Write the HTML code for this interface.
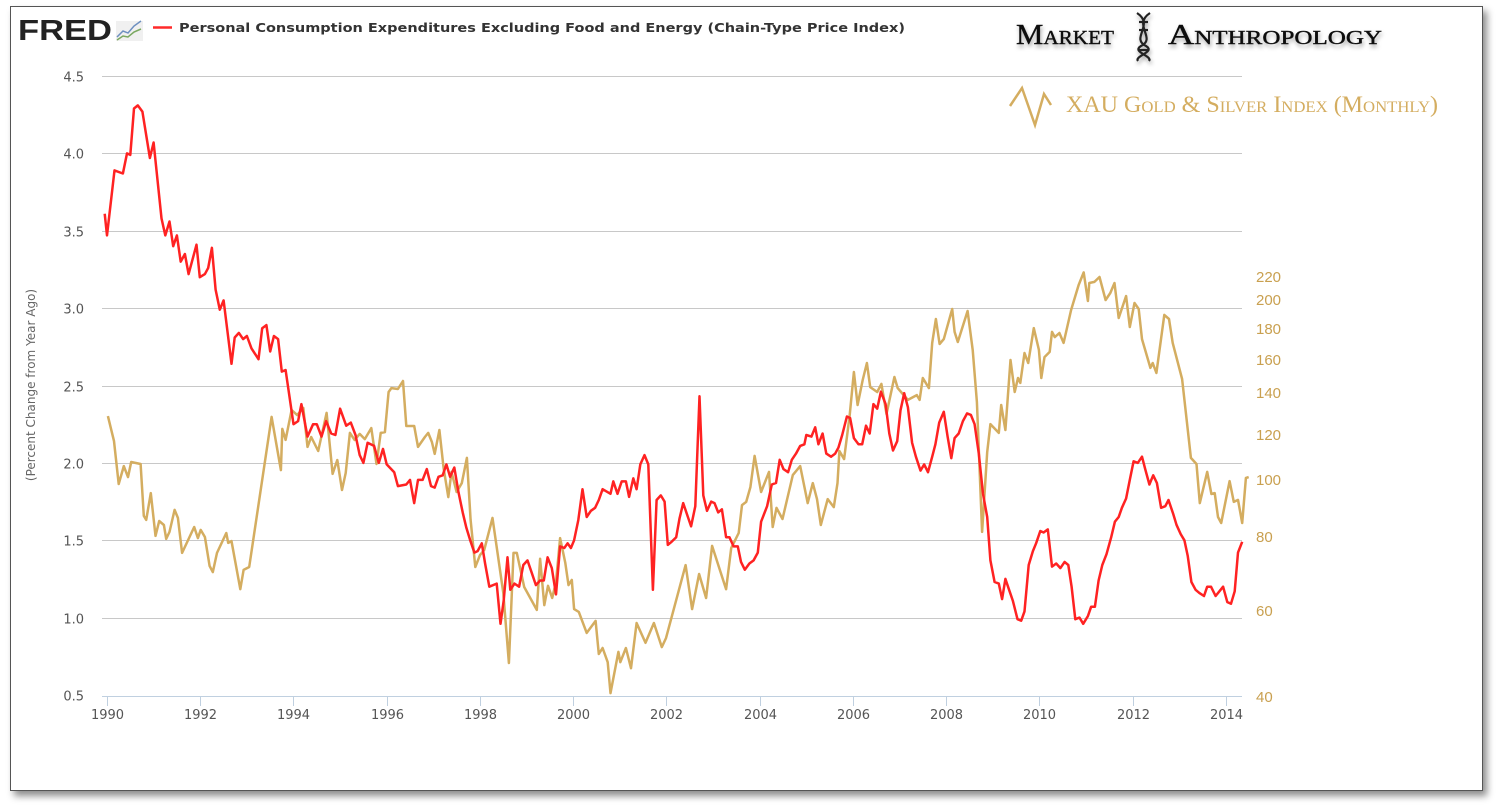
<!DOCTYPE html>
<html>
<head>
<meta charset="utf-8">
<style>
  html,body{margin:0;padding:0;background:#fff;}
  body{width:1501px;height:810px;position:relative;overflow:hidden;font-family:"Liberation Sans",sans-serif;}
  #frame{position:absolute;left:10px;top:6px;width:1471px;height:783px;border:1px solid #555;box-shadow:4px 5px 7px rgba(0,0,0,0.45);background:#fff;}
  svg{position:absolute;left:0;top:0;}
</style>
</head>
<body>
<div id="frame"></div>
<svg id="chart" width="1501" height="810">
  <defs>
    <filter id="sh" x="-5%" y="-30%" width="110%" height="170%"><feDropShadow dx="1" dy="3" stdDeviation="2" flood-color="#000" flood-opacity="0.35"/></filter>
  </defs>
  <g>
    <text x="18" y="40" font-family="Liberation Sans, sans-serif" font-weight="bold" font-size="29" fill="#222" textLength="94" lengthAdjust="spacingAndGlyphs">FRED</text>
    <rect x="116" y="21" width="27" height="20" fill="#f0f0f0"/>
    <polyline points="117,37 123,31 128,33 134,26 141,21" fill="none" stroke="#6d8fc0" stroke-width="1.5"/>
    <polyline points="117,40 123,36 128,37 134,32 141,29" fill="none" stroke="#7aa860" stroke-width="1.5"/>
  </g>
  <line x1="153" y1="27.5" x2="172" y2="27.5" stroke="#ff2a2a" stroke-width="2.5"/>
  <text x="179" y="32" font-family="DejaVu Sans, sans-serif" font-size="12.5" font-weight="bold" fill="#333" textLength="726" lengthAdjust="spacingAndGlyphs">Personal Consumption Expenditures Excluding Food and Energy (Chain-Type Price Index)</text>
  <g filter="url(#sh)">
    <text x="1016" y="44" font-family="Liberation Serif, serif" font-size="29" fill="#111" stroke="#111" stroke-width="0.4" style="font-variant:small-caps" textLength="98" lengthAdjust="spacingAndGlyphs">Market</text>
    <g stroke="#222" stroke-width="2.2" fill="none">
      <path d="M1137,13 C1155,25 1130,38 1146,46 C1156,52 1134,56 1138,61"/>
      <path d="M1150,13 C1132,25 1157,38 1141,46 C1131,52 1153,56 1149,61"/>
      <line x1="1139" y1="22" x2="1148" y2="22"/><line x1="1139" y1="30" x2="1148" y2="30"/><line x1="1139" y1="50" x2="1148" y2="50"/>
    </g>
    <text x="1168" y="44" font-family="Liberation Serif, serif" font-size="29" fill="#111" stroke="#111" stroke-width="0.4" style="font-variant:small-caps" textLength="214" lengthAdjust="spacingAndGlyphs">Anthropology</text>
  </g>
  <g>
    <polyline points="1010,106 1022,88 1035,125 1044,94 1051,105" fill="none" stroke="#d4ad60" stroke-width="2.5"/>
    <text x="1066" y="112" font-family="Liberation Serif, serif" font-size="23" fill="#d4ad60" style="font-variant:small-caps" textLength="372" lengthAdjust="spacingAndGlyphs">XAU Gold &amp; Silver Index (Monthly)</text>
  </g>
  <text transform="translate(35,385) rotate(-90)" text-anchor="middle" font-family="DejaVu Sans, sans-serif" font-size="12" fill="#666">(Percent Change from Year Ago)</text>
  <g id="grid"></g>
  <g id="axes"></g>
  <g id="series"></g>
</svg>
<script>
const leftTicks = [0.5,1.0,1.5,2.0,2.5,3.0,3.5,4.0,4.5];
const rightTicks = [40,60,80,100,120,140,160,180,200,220];
const rightTickPx = [697,611,537,480,435,393,360,329,300,277];
const xTickYears = [1990,1992,1994,1996,1998,2000,2002,2004,2006,2008,2010,2012,2014];

const redYears = [1989.95,1990.0,1990.16,1990.34,1990.43,1990.5,1990.58,1990.66,1990.76,1990.92,1991.0,1991.17,1991.25,1991.34,1991.42,1991.5,1991.58,1991.67,1991.75,1991.92,1991.99,1992.1,1992.17,1992.25,1992.33,1992.42,1992.5,1992.67,1992.74,1992.83,1992.92,1993.0,1993.1,1993.25,1993.33,1993.42,1993.5,1993.58,1993.67,1993.75,1993.83,1994.0,1994.1,1994.17,1994.3,1994.42,1994.5,1994.6,1994.7,1994.81,1994.9,1995.0,1995.13,1995.23,1995.33,1995.42,1995.5,1995.59,1995.73,1995.83,1995.92,1996.0,1996.16,1996.24,1996.42,1996.5,1996.59,1996.67,1996.77,1996.86,1996.95,1997.03,1997.11,1997.2,1997.28,1997.36,1997.45,1997.54,1997.63,1997.71,1997.79,1997.88,1997.95,1998.04,1998.11,1998.2,1998.36,1998.44,1998.51,1998.59,1998.65,1998.74,1998.84,1998.93,1999.02,1999.11,1999.2,1999.29,1999.37,1999.45,1999.54,1999.63,1999.72,1999.81,1999.88,1999.95,2000.02,2000.11,2000.2,2000.29,2000.38,2000.47,2000.55,2000.63,2000.8,2000.86,2000.95,2001.04,2001.13,2001.2,2001.29,2001.36,2001.44,2001.53,2001.61,2001.71,2001.79,2001.88,2001.96,2002.03,2002.11,2002.21,2002.28,2002.36,2002.46,2002.53,2002.62,2002.71,2002.79,2002.87,2002.96,2003.03,2003.11,2003.19,2003.28,2003.35,2003.44,2003.53,2003.6,2003.68,2003.78,2003.87,2003.96,2004.03,2004.16,2004.26,2004.35,2004.43,2004.51,2004.61,2004.69,2004.78,2004.87,2004.96,2005.0,2005.11,2005.19,2005.26,2005.35,2005.43,2005.53,2005.62,2005.69,2005.77,2005.87,2005.94,2006.02,2006.12,2006.2,2006.28,2006.36,2006.44,2006.52,2006.6,2006.7,2006.78,2006.86,2006.95,2007.02,2007.1,2007.18,2007.27,2007.35,2007.45,2007.53,2007.61,2007.7,2007.77,2007.85,2007.95,2008.03,2008.11,2008.18,2008.27,2008.36,2008.45,2008.53,2008.61,2008.7,2008.79,2008.88,2008.95,2009.04,2009.13,2009.2,2009.27,2009.36,2009.43,2009.53,2009.61,2009.68,2009.77,2009.86,2009.93,2010.02,2010.09,2010.18,2010.27,2010.36,2010.45,2010.54,2010.62,2010.69,2010.77,2010.86,2010.94,2011.04,2011.11,2011.19,2011.27,2011.35,2011.44,2011.54,2011.62,2011.7,2011.77,2011.86,2011.94,2012.02,2012.11,2012.2,2012.27,2012.36,2012.44,2012.52,2012.61,2012.7,2012.77,2012.87,2012.94,2013.03,2013.11,2013.18,2013.26,2013.35,2013.43,2013.53,2013.6,2013.68,2013.78,2013.86,2013.94,2014.03,2014.11,2014.19,2014.26,2014.35];
const redVals = [3.61,3.47,3.89,3.87,4.0,3.99,4.29,4.31,4.27,3.97,4.07,3.58,3.47,3.56,3.40,3.47,3.30,3.35,3.22,3.41,3.20,3.22,3.26,3.39,3.12,2.99,3.05,2.64,2.81,2.84,2.80,2.82,2.74,2.67,2.87,2.89,2.72,2.82,2.80,2.59,2.60,2.25,2.27,2.38,2.17,2.25,2.25,2.17,2.27,2.19,2.18,2.35,2.24,2.26,2.18,2.05,2.0,2.13,2.11,2.0,2.09,1.99,1.94,1.85,1.86,1.89,1.74,1.89,1.89,1.96,1.85,1.84,1.91,1.92,1.99,1.91,1.97,1.81,1.68,1.58,1.50,1.42,1.43,1.48,1.35,1.20,1.22,0.96,1.11,1.39,1.18,1.22,1.20,1.34,1.37,1.29,1.21,1.24,1.24,1.39,1.32,1.15,1.46,1.45,1.48,1.45,1.50,1.63,1.83,1.65,1.69,1.71,1.76,1.83,1.80,1.88,1.80,1.88,1.88,1.78,1.90,1.83,1.99,2.05,1.99,1.18,1.76,1.79,1.75,1.47,1.49,1.52,1.64,1.74,1.65,1.59,1.72,2.43,1.79,1.69,1.75,1.74,1.68,1.70,1.52,1.52,1.46,1.46,1.36,1.31,1.35,1.37,1.42,1.62,1.72,1.86,1.87,2.02,1.96,1.94,2.02,2.06,2.11,2.12,2.18,2.17,2.23,2.12,2.19,2.06,2.04,2.06,2.10,2.18,2.30,2.29,2.16,2.12,2.12,2.24,2.19,2.38,2.35,2.46,2.38,2.19,2.08,2.14,2.34,2.45,2.36,2.13,2.04,1.95,1.99,1.94,2.04,2.12,2.26,2.33,2.17,2.03,2.16,2.19,2.27,2.32,2.31,2.25,2.06,1.80,1.65,1.37,1.23,1.22,1.12,1.25,1.17,1.11,0.99,0.98,1.04,1.34,1.43,1.48,1.56,1.55,1.57,1.33,1.35,1.32,1.36,1.34,1.20,0.99,1.00,0.96,1.01,1.07,1.07,1.24,1.34,1.41,1.52,1.62,1.65,1.71,1.77,1.89,2.01,2.00,2.04,1.96,1.86,1.92,1.87,1.71,1.72,1.76,1.67,1.60,1.54,1.50,1.40,1.23,1.18,1.16,1.14,1.20,1.20,1.14,1.17,1.20,1.10,1.09,1.17,1.42,1.49];

const goldYears = [1990.02,1990.15,1990.25,1990.36,1990.45,1990.52,1990.72,1990.79,1990.84,1990.94,1991.04,1991.12,1991.22,1991.27,1991.34,1991.45,1991.52,1991.61,1991.87,1991.95,1992.01,1992.1,1992.2,1992.27,1992.36,1992.56,1992.6,1992.67,1992.86,1992.93,1993.05,1993.53,1993.73,1993.76,1993.83,1993.96,1994.08,1994.21,1994.3,1994.38,1994.53,1994.71,1994.84,1994.94,1995.04,1995.12,1995.21,1995.31,1995.42,1995.53,1995.67,1995.78,1995.87,1995.96,1996.04,1996.1,1996.24,1996.35,1996.42,1996.59,1996.67,1996.82,1996.89,1996.97,1997.03,1997.13,1997.22,1997.32,1997.39,1997.5,1997.61,1997.72,1997.8,1997.9,1998.0,1998.09,1998.27,1998.5,1998.62,1998.72,1998.79,1998.95,1999.22,1999.29,1999.38,1999.46,1999.55,1999.63,1999.72,1999.83,1999.9,1999.97,2000.02,2000.12,2000.29,2000.48,2000.55,2000.63,2000.74,2000.8,2000.97,2001.01,2001.13,2001.24,2001.36,2001.55,2001.73,2001.9,2001.99,2002.41,2002.55,2002.7,2002.85,2002.98,2003.28,2003.39,2003.55,2003.62,2003.71,2003.8,2003.89,2004.03,2004.2,2004.28,2004.36,2004.49,2004.71,2004.87,2005.03,2005.14,2005.23,2005.31,2005.46,2005.59,2005.67,2005.71,2005.81,2005.93,2006.02,2006.1,2006.21,2006.3,2006.37,2006.52,2006.61,2006.72,2006.89,2006.96,2007.05,2007.18,2007.37,2007.43,2007.5,2007.63,2007.7,2007.78,2007.86,2007.95,2008.13,2008.18,2008.25,2008.46,2008.57,2008.66,2008.77,2008.88,2008.95,2009.13,2009.18,2009.27,2009.38,2009.47,2009.54,2009.59,2009.68,2009.76,2009.88,2009.99,2010.04,2010.11,2010.22,2010.27,2010.33,2010.43,2010.52,2010.68,2010.84,2010.95,2011.04,2011.07,2011.18,2011.29,2011.42,2011.52,2011.61,2011.7,2011.86,2011.94,2012.04,2012.13,2012.2,2012.38,2012.43,2012.51,2012.68,2012.78,2012.86,2013.06,2013.25,2013.37,2013.44,2013.6,2013.69,2013.76,2013.83,2013.9,2014.08,2014.17,2014.26,2014.35,2014.43,2014.49];
const goldVals = [129,117.3,98.6,106.2,101.3,108,107.1,87.4,86,95.4,80.4,85.6,84.2,79.5,81.8,89.5,86.7,75.7,83.5,79.7,82.5,80,72.2,70.5,75.7,81.4,78.4,78.9,65.9,71.1,71.9,128.6,104.4,122.9,117.8,131.9,129.5,132.9,114.7,119.1,112.9,130.5,102.7,108.9,96.5,103.1,121,117.8,120.5,118.2,123.3,107.1,121,121.4,140.6,143,142.4,147.3,124.3,124.3,114.7,119.1,121,116.9,111.6,122.4,105.3,94,103.6,95.8,98.9,109.8,86,71.9,75.1,76.5,86.7,64.9,47.9,75.7,75.7,66.5,60.3,74.1,61.6,66.8,63.5,67.8,79.7,73,67,68.4,60.5,59.8,54.9,57.7,50,51.4,48.1,40.9,50.5,48.1,51.4,46.7,57.2,52.6,57.2,51.6,53.7,72.4,60.5,70,63.5,77.6,65.9,77,81.4,91.2,92.3,97.5,110.7,95.8,103.6,83.5,90.2,86.3,102.2,106.2,91.9,98.9,93.3,84.2,93.3,90.5,98.9,112.9,109.3,129.5,152.7,134.3,147.9,158.2,143.6,140.6,145.5,130,149.7,143,140,136.7,139,136.7,149.1,143,171,186.9,170.3,173.5,193.8,178.1,171.6,192.4,166.5,135.7,81.8,112.4,125.2,121,134.3,122.4,160,140.6,149.1,146.1,164.5,158.2,180.6,166.5,149.1,161.9,165.2,178.1,174.8,177.4,171,193.1,213,224,199.3,214.8,215.7,220,200,206.1,214.8,187.6,203.5,181.4,197.9,193.8,173.5,155.2,158.2,152.1,189.7,186.9,171,148.5,109.8,107.1,91.9,103.6,95.1,95.4,87,84.9,99.6,92.3,93,84.9,100.9,101.3];

const NS = 'http://www.w3.org/2000/svg';
const X0 = 107, XPY = 46.62;
function xs(yr){ return X0 + (yr - 1990) * XPY; }
function yL(v){ return 695 - (v - 0.5) * 154.75; }
function yR(v){
  for (let i = 0; i < rightTicks.length - 1; i++) {
    const a = rightTicks[i], b = rightTicks[i+1];
    if (v <= b || i === rightTicks.length - 2) {
      return rightTickPx[i] + (v - a) / (b - a) * (rightTickPx[i+1] - rightTickPx[i]);
    }
  }
}
function mk(tag, attrs, parent){
  const e = document.createElementNS(NS, tag);
  for (const k in attrs) e.setAttribute(k, attrs[k]);
  parent.appendChild(e);
  return e;
}
const grid = document.getElementById('grid');
const axes = document.getElementById('axes');
const series = document.getElementById('series');

leftTicks.forEach(t => {
  const y = Math.round(yL(t)) + 0.5;
  if (t > 0.5) {
    const gl = mk('line', {x1:102, x2:1242, y1:y, y2:y, stroke:'#c8c8c8', 'stroke-width':1}, grid);
    
    
  }
  const tx = mk('text', {x:84, y:y+5, 'text-anchor':'end', 'font-family':'DejaVu Sans, sans-serif', 'font-size':13, fill:'#555'}, axes);
  tx.textContent = t.toFixed(1);
  
  
});
const xl = mk('line', {x1:102, x2:1242, y1:696.5, y2:696.5, stroke:'#c0d0e0', 'stroke-width':1}, axes);


xTickYears.forEach(yr => {
  const x = Math.round(xs(yr)) + 0.5;
  const tk = mk('line', {x1:x, x2:x, y1:697, y2:706, stroke:'#c0d0e0', 'stroke-width':1}, axes);
  
  
  const tx = mk('text', {x:x, y:719, 'text-anchor':'middle', 'font-family':'DejaVu Sans, sans-serif', 'font-size':13, fill:'#555'}, axes);
  tx.textContent = yr;
  
  
});
rightTicks.forEach(t => {
  const tx = mk('text', {x:1256, y:yR(t)+5, 'font-size':15, fill:'#c9a050'}, axes);
  tx.textContent = t;
  
  
});

const gp = goldYears.map((yr,i) => xs(yr).toFixed(1) + ',' + yR(goldVals[i]).toFixed(1)).join(' ');
const gl = mk('polyline', {points:gp, fill:'none', stroke:'#d4ad60', 'stroke-width':2.5, 'stroke-linejoin':'round'}, series);



const rp = redYears.map((yr,i) => xs(yr).toFixed(1) + ',' + yL(redVals[i]).toFixed(1)).join(' ');
const rl = mk('polyline', {points:rp, fill:'none', stroke:'#ff2222', 'stroke-width':2.5, 'stroke-linejoin':'round'}, series);


</script>
</body>
</html>
